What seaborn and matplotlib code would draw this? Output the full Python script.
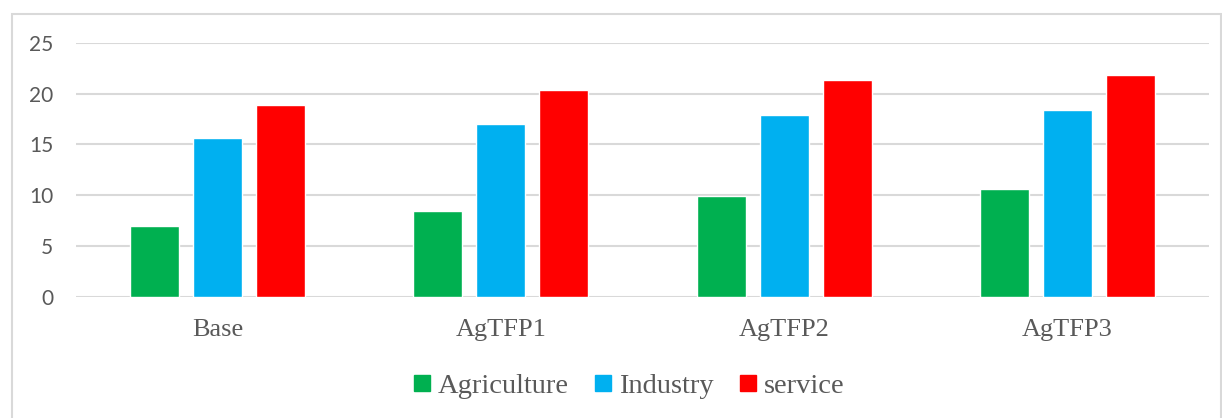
import matplotlib
matplotlib.use("Agg")
import matplotlib.pyplot as plt
import seaborn as sns
import pandas as pd
from matplotlib.patches import Rectangle
from matplotlib.lines import Line2D

scenarios = ["Base", "AgTFP1", "AgTFP2", "AgTFP3"]
agriculture = [7.0, 8.5, 9.9, 10.65]
industry = [15.65, 17.0, 17.9, 18.35]
service = [18.85, 20.35, 21.35, 21.8]
sectors = ["Agriculture", "Industry", "service"]
colors = ["#00B050", "#00B0F0", "#FF0000"]

df = pd.DataFrame({
    "scenario": scenarios * 3,
    "sector": [s for s in sectors for _ in scenarios],
    "value": agriculture + industry + service,
})

sns.set_theme(style="white")
W, H = 1222, 418
fig = plt.figure(figsize=(W / 100, H / 100), dpi=100)
ax = fig.add_axes([76 / W, 1 - 297 / H, (1209 - 76) / W, (297 - 42.7) / H])

sns.barplot(data=df, x="scenario", y="value", hue="sector", order=scenarios,
            hue_order=sectors, palette=colors, saturation=1, width=0.667,
            gap=0.22, errorbar=None, ax=ax, legend=False, zorder=3)

ax.set_ylim(0, 25)
ax.set_xlim(-0.5, 3.5)
ax.set_yticks([0, 5, 10, 15, 20, 25])
ax.yaxis.grid(True, color="#D9D9D9", linewidth=1.5, zorder=0)
ax.set_axisbelow(True)
for sp in ax.spines.values():
    sp.set_visible(False)
ax.set_xlabel("")
ax.set_ylabel("")
ax.tick_params(axis="y", length=0, pad=16.5, labelsize=15, labelcolor="#595959")
ax.tick_params(axis="x", length=0, pad=16, labelsize=19, labelcolor="#595959")
for t in ax.get_yticklabels():
    t.set_family("Lato")
for t in ax.get_xticklabels():
    t.set_family("Liberation Serif")

# chart frame
fig.patches.append(Rectangle((11.5 / W, -0.05), (1221 - 11.5) / W, 1.05 - 14.3 / H,
                             transform=fig.transFigure, fill=False,
                             edgecolor="#D9D9D9", linewidth=1.5))

handles = [Line2D([], [], marker="s", linestyle="", markersize=11,
                  markerfacecolor=c, markeredgecolor=c) for c in colors]
fig.legend(handles, sectors, loc="center", bbox_to_anchor=(629 / W, 1 - 386 / H),
           ncol=3, frameon=False, handlelength=0.6, handletextpad=0.25,
           columnspacing=0.9, prop={"family": "Liberation Serif", "size": 20.5},
           labelcolor="#595959")

fig.savefig("out.png", dpi=100, facecolor="white")
